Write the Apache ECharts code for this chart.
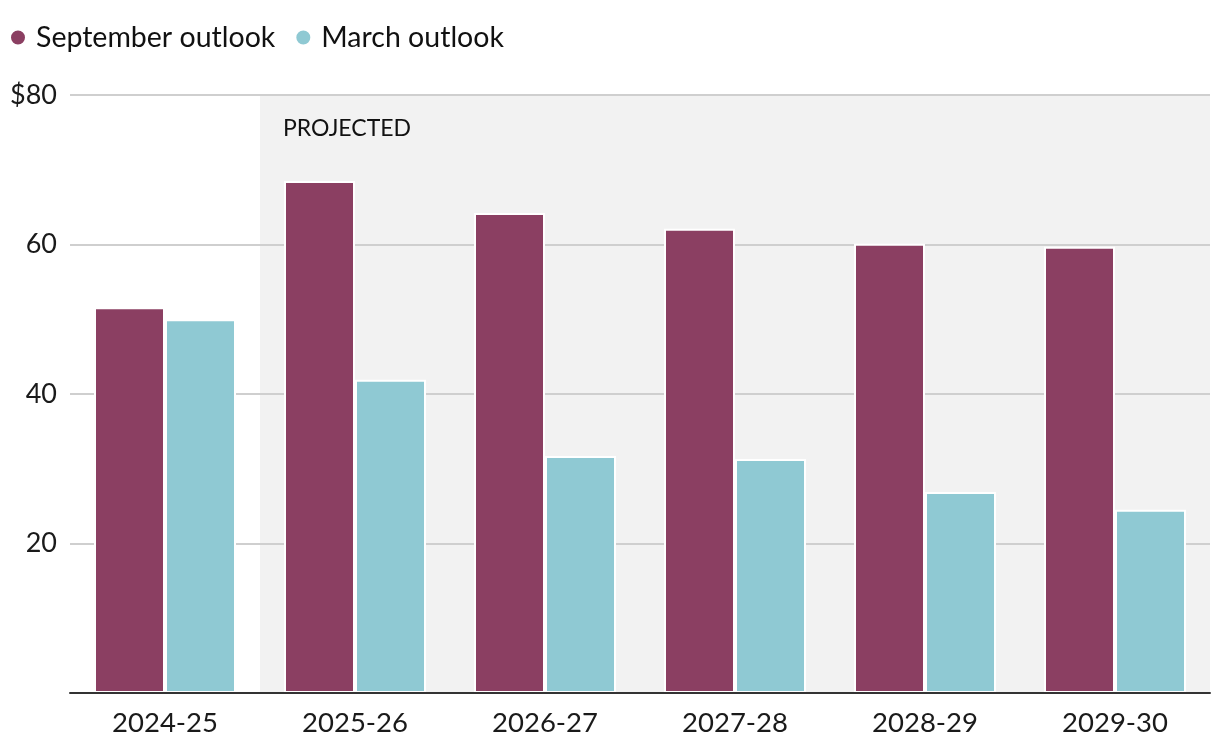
<!DOCTYPE html>
<html>
<head>
<meta charset="utf-8">
<script src="https://cdn.jsdelivr.net/npm/echarts@6/dist/echarts.min.js"></script>
<style>html,body{margin:0;padding:0;background:#fff}#c{width:1220px;height:754px}</style>
</head>
<body>
<div id="c"></div>
<script>
const categories = ['2024-25','2025-26','2026-27','2027-28','2028-29','2029-30'];
const septemberOutlook = [51.6, 68.5, 64.2, 62.1, 60.1, 59.7];
const marchOutlook = [50.0, 41.9, 31.7, 31.3, 26.9, 24.5];
const projectedLabel = 'PROJECTED';
const projectedStart = 1, projectedEnd = 6;

const font = 'Lato';
const chart = echarts.init(document.getElementById('c'), null, {renderer:'canvas'});
chart.setOption({
  animation:false,
  textStyle:{fontFamily:font},
  legend:{
    left:4, top:18, icon:'circle', itemWidth:16, itemHeight:16, itemGap:19,
    textStyle:{fontSize:28.5, color:'#111', fontFamily:font, padding:[0,0,0,5]},
    data:['September outlook','March outlook']
  },
  grid:{left:70, right:10, top:95, bottom:61, containLabel:false},
  xAxis:[{
    type:'category', data:categories, z:5,
    axisLine:{lineStyle:{color:'#333', width:2}},
    axisTick:{show:false},
    axisLabel:{fontSize:27.5, color:'#1a1a1a', margin:16, fontFamily:font}
  },{
    type:'value', min:0, max:6, show:false
  }],
  yAxis:{
    type:'value', min:0, max:80, interval:20, z:1,
    axisLine:{show:false}, axisTick:{show:false},
    splitLine:{lineStyle:{color:'#cfcfcf', width:2}},
    axisLabel:{fontSize:27, color:'#1a1a1a', margin:13, fontFamily:font,
      formatter:v => v===0 ? '' : (v===80 ? '$'+v : String(v))}
  },
  series:[
    {
      name:'projected', type:'line', xAxisIndex:1, data:[], silent:true, z:-5,
      markArea:{silent:true, z:-5, itemStyle:{color:'#f2f2f2'},
        label:{show:true, position:'insideTopLeft', formatter:projectedLabel, color:'#111', fontSize:23, fontFamily:font, offset:[18,17]},
        data:[[{xAxis:projectedStart},{xAxis:projectedEnd}]]}
    },
    {
      name:'September outlook', type:'bar', data:septemberOutlook, barWidth:71, barGap:'0%', z:3,
      itemStyle:{color:'#8b3f62', borderColor:'#fff', borderWidth:2}
    },
    {
      name:'March outlook', type:'bar', data:marchOutlook, barWidth:71, z:3,
      itemStyle:{color:'#8fc9d3', borderColor:'#fff', borderWidth:2}
    }
  ]
});
</script>
</body>
</html>
